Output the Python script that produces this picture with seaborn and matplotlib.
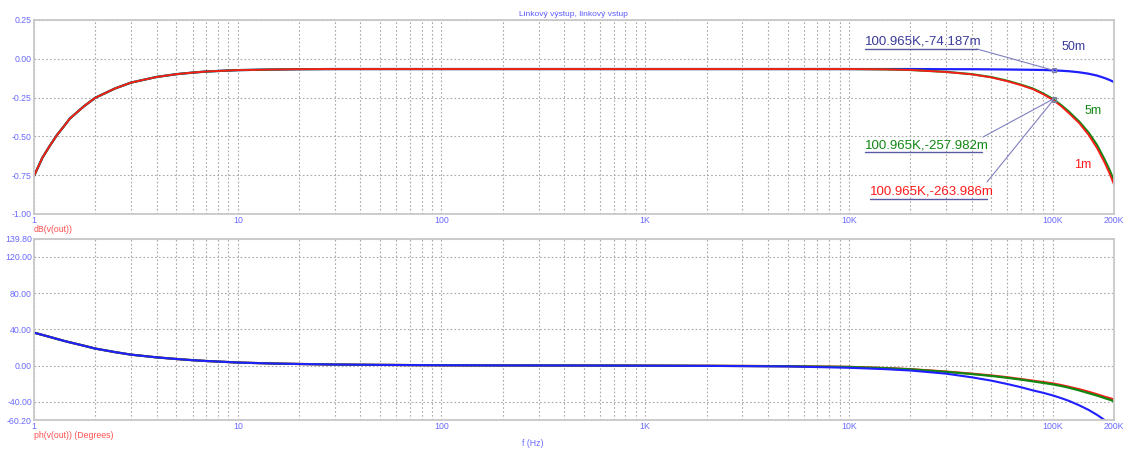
import matplotlib.pyplot as plt
from matplotlib.lines import Line2D
from matplotlib.ticker import FixedLocator, LogLocator, NullFormatter
import pandas as pd
import seaborn as sns

# frequency points (Hz)
freq_hz = [1, 1.1, 1.2, 1.3, 1.4, 1.5, 1.75, 2, 2.5, 3, 4, 5, 6, 7, 8.5, 10, 15, 20, 30, 50,
           100, 200, 500, 1000, 2000, 5000, 10000, 15000, 20000, 30000, 40000, 50000, 60000,
           70000, 80000, 90000, 100000, 110000, 120000, 135000, 150000, 165000, 180000,
           190000, 200000]

# dB(v(out)) for the three cable lengths (1 Hz .. 5 kHz shared, then 10 kHz .. 200 kHz)
mag_low = [-0.755, -0.637, -0.557, -0.489, -0.436, -0.385, -0.308, -0.251, -0.191, -0.153,
           -0.117, -0.099, -0.089, -0.082, -0.077, -0.073, -0.069, -0.067, -0.066, -0.066,
           -0.066, -0.066, -0.066, -0.066, -0.066, -0.066]
mag_50m = mag_low + [-0.066, -0.066, -0.066, -0.067, -0.067, -0.068, -0.069, -0.070,
                     -0.071, -0.072, -0.074, -0.077, -0.080, -0.087, -0.096, -0.108, -0.124,
                     -0.136, -0.150]
mag_5m = mag_low + [-0.066, -0.068, -0.072, -0.084, -0.099, -0.118, -0.142,
                    -0.167, -0.192, -0.224, -0.258, -0.298, -0.340, -0.405, -0.475, -0.555,
                    -0.650, -0.715, -0.785]
mag_1m = mag_low + [-0.066, -0.068, -0.072, -0.085, -0.100, -0.120, -0.145,
                    -0.170, -0.196, -0.229, -0.264, -0.305, -0.350, -0.415, -0.490, -0.575,
                    -0.670, -0.738, -0.810]

# ph(v(out)) in degrees (1 Hz .. 500 Hz shared, then 1 kHz .. 200 kHz)
ph_low = [36.3, 33.8, 31.5, 29.3, 27.3, 25.6, 22.0, 18.7, 14.8, 12.0, 9.0, 7.2, 5.9, 5.0,
          4.1, 3.3, 2.2, 1.7, 1.1, 0.7, 0.3, 0.1, 0.0]
ph_50m = ph_low + [-0.2, -0.4, -1.0, -2.5, -4.0, -5.5, -9.0, -13.0, -16.7, -20.5,
                   -24.0, -27.5, -30.2, -33.0, -36.0, -39.0, -44.0, -49.0, -54.5, -60.3,
                   -64.0, -68.0]
ph_5m = ph_low + [-0.1, -0.3, -0.8, -1.6, -2.9, -4.2, -7.0, -9.4, -11.5, -13.6,
                  -15.6, -17.5, -19.2, -20.8, -22.6, -24.5, -27.5, -30.5, -33.2, -36.0,
                  -37.7, -39.5]
ph_1m = ph_low + [-0.1, -0.3, -0.7, -1.5, -2.8, -4.0, -6.7, -9.0, -11.0, -13.0,
                  -15.0, -16.8, -18.3, -19.8, -21.6, -23.5, -26.2, -29.0, -31.8, -34.5,
                  -36.0, -37.5]

x_ticks = [1, 10, 100, 1000, 10000, 100000, 200000]
x_tick_labels = ["1", "10", "100", "1K", "10K", "100K", "200K"]
mag_ticks = [0.25, 0.0, -0.25, -0.5, -0.75, -1.0]
ph_ticks = [139.8, 120, 80, 40, 0, -40, -60.2]

W, H = 1125, 451
BLUE = "#1f1fff"
GREEN = "#118811"
RED = "#ff1a1a"
TICK_COLOR = "#6a6aff"
LABEL_COLOR = "#ff5050"
GRID_COLOR = "#a8a8a8"
SPINE_COLOR = "#c8c8c8"

sns.set_style("white")
plt.rcParams["font.family"] = ["Liberation Sans", "DejaVu Sans"]

df = pd.DataFrame({
    "f": freq_hz,
    "mag_50m": mag_50m, "mag_5m": mag_5m, "mag_1m": mag_1m,
    "ph_50m": ph_50m, "ph_5m": ph_5m, "ph_1m": ph_1m,
})


def px(x, y):
    # pixel position from the top-left corner -> figure fraction
    return x / W, 1 - y / H


fig = plt.figure(figsize=(W / 100, H / 100), dpi=100)
ax_mag = fig.add_axes([34 / W, 1 - 214 / H, 1080 / W, 194 / H])
ax_ph = fig.add_axes([34 / W, 1 - 420 / H, 1080 / W, 181 / H])

# magnitude: red ends up on top; phase: blue ends up on top
draw_order = {
    "mag": [("50m", BLUE, 1.6), ("5m", GREEN, 1.6), ("1m", RED, 1.3)],
    "ph": [("1m", RED, 1.6), ("5m", GREEN, 1.6), ("50m", BLUE, 1.5)],
}

for ax, prefix, yticks in [(ax_mag, "mag", mag_ticks), (ax_ph, "ph", ph_ticks)]:
    for name, color, lw in draw_order[prefix]:
        sns.lineplot(data=df, x="f", y=f"{prefix}_{name}", ax=ax, color=color, lw=lw)

    ax.set_xscale("log")
    ax.set_xlim(1, 200000)
    ax.set_ylim(min(yticks), max(yticks))
    ax.xaxis.set_major_locator(FixedLocator(x_ticks))
    ax.set_xticklabels(x_tick_labels)
    ax.xaxis.set_minor_locator(LogLocator(base=10, subs=range(2, 10), numticks=20))
    ax.xaxis.set_minor_formatter(NullFormatter())
    ax.set_yticks(yticks)
    ax.set_yticklabels([f"{v:.2f}" for v in yticks])
    ax.set_xlabel("")
    ax.set_ylabel("")

    ax.grid(which="both", axis="x", color=GRID_COLOR, linestyle=(0, (1.5, 2)), lw=0.8)
    ax.grid(which="major", axis="y", color=GRID_COLOR, linestyle=(0, (1.5, 2)), lw=0.8)
    ax.tick_params(axis="both", which="both", length=0, labelsize=6.3, labelcolor=TICK_COLOR, pad=1.5)
    for spine in ax.spines.values():
        spine.set_color(SPINE_COLOR)
        spine.set_linewidth(1.3)
    ax.set_axisbelow(True)

fig.text(*px(573, 14), "Linkový výstup, linkový vstup", fontsize=6, color="#5a5aff",
         ha="center", va="center")
fig.text(*px(34, 230), "dB(v(out))", fontsize=6.3, color=LABEL_COLOR, ha="left", va="center")
fig.text(*px(34, 435), "ph(v(out)) (Degrees)", fontsize=6.3, color=LABEL_COLOR, ha="left", va="center")
fig.text(*px(533, 444), "f (Hz)", fontsize=6.3, color=TICK_COLOR, ha="center", va="center")

# cursor read-outs with leader lines
cursor_f = 100965
readouts = [
    ("100.965K,-74.187m", "#3a3a9a", -0.074187, (865, 42), (865, 977, 49), (977, 49)),
    ("100.965K,-257.982m", GREEN, -0.257982, (865, 145), (865, 982, 152), (983, 137)),
    ("100.965K,-263.986m", RED, -0.263986, (870, 191), (870, 987, 199), (987, 182)),
]
for text, color, yval, (tx, ty), (ux0, ux1, uy), (lx, ly) in readouts:
    fig.text(*px(tx, ty), text, fontsize=9.5, color=color, ha="left", va="center")
    fig.add_artist(Line2D([ux0 / W, ux1 / W], [1 - uy / H, 1 - uy / H], color="#5a5aa0", lw=1.0))
    ax_mag.annotate("", xy=(cursor_f, yval), xycoords="data",
                    xytext=(lx, H - ly), textcoords="figure pixels",
                    arrowprops=dict(arrowstyle="-", color="#8080c0", lw=0.8, shrinkA=0, shrinkB=0))
    ax_mag.plot([cursor_f], [yval], marker="s", ms=3, mfc="none", mec="#8080a0", mew=0.8)

fig.text(*px(1062, 47), "50m", fontsize=9, color="#3a3a9a", ha="left", va="center")
fig.text(*px(1085, 111), "5m", fontsize=9, color=GREEN, ha="left", va="center")
fig.text(*px(1074, 165), "1m", fontsize=9, color=RED, ha="left", va="center")

fig.savefig("out.png", dpi=100)
